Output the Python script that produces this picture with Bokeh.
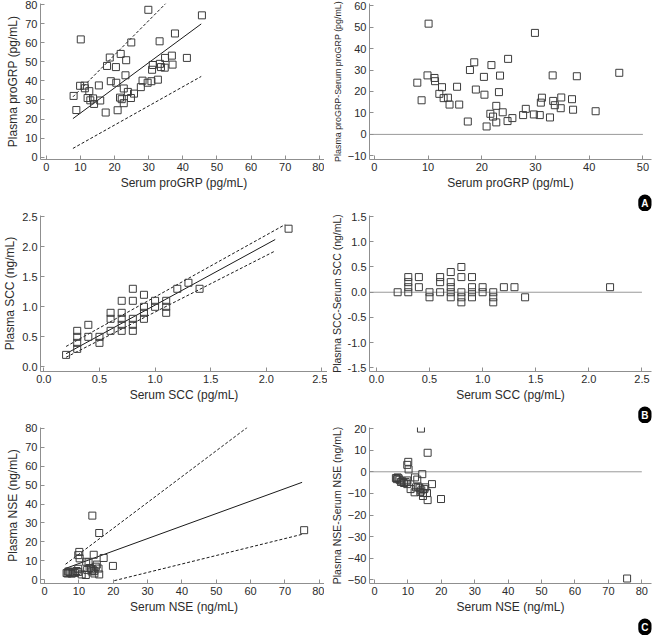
from bokeh.plotting import figure
from bokeh.models import FixedTicker, Range1d, NumeralTickFormatter, Title
from bokeh.layouts import gridplot
from bokeh.embed import file_html
from bokeh.resources import INLINE

FONT = "Liberation Sans"

# ---------------- proGRP ----------------
progrp_serum = [8.0, 8.8, 9.9, 10.1, 11.2, 11.3, 12.1, 12.6, 12.9, 13.7, 14.0, 15.4, 15.8, 17.4,
                17.8, 18.6, 18.9, 20.4, 20.5, 20.9, 21.6, 21.8, 22.1, 22.7, 22.7, 23.2, 23.4, 23.9,
                24.8, 24.9, 25.7, 27.7, 28.2, 29.7, 29.9, 30.8, 31.0, 31.2, 32.7, 33.2, 33.3, 33.6,
                34.7, 34.8, 36.8, 37.0, 37.7, 41.2, 45.6]
progrp_plasma = [32.1, 24.7, 37.4, 61.7, 37.5, 36.1, 31.0, 34.6, 29.8, 30.8, 27.9, 37.6, 29.7, 23.4,
                 47.8, 52.2, 39.8, 47.2, 39.0, 24.6, 31.2, 54.1, 30.4, 36.0, 28.3, 42.9, 50.8, 34.2,
                 31.0, 60.1, 33.3, 36.7, 40.1, 39.0, 77.2, 39.8, 45.8, 48.3, 40.6, 60.7, 48.9, 47.2,
                 46.9, 52.0, 53.2, 48.5, 64.8, 52.0, 74.3]
progrp_diff = [24.1, 15.9, 27.5, 51.6, 26.3, 24.8, 18.9, 22.0, 16.9, 17.1, 13.9, 22.2, 13.9, 6.0,
               30.0, 33.6, 20.9, 26.8, 18.5, 3.7, 9.6, 32.3, 8.3, 13.3, 5.6, 19.7, 27.4, 10.3,
               6.2, 35.2, 7.6, 9.0, 11.9, 9.3, 47.3, 9.0, 14.8, 17.1, 7.9, 27.5, 15.6, 13.6,
               12.2, 17.2, 16.4, 11.5, 27.1, 10.8, 28.7]
progrp_fit_x = [7.8, 45.4]
progrp_fit_y = [20.2, 69.8]
progrp_upper_x = [7.8, 35.0]
progrp_upper_y = [31.6, 80.5]
progrp_lower_x = [7.8, 45.4]
progrp_lower_y = [4.6, 42.3]
progrp_zero_x = [-0.9, 50]
progrp_zero_y = [0, 0]

# ---------------- SCC ----------------
scc_serum = [0.2, 0.3, 0.3, 0.3, 0.3, 0.4, 0.4, 0.5, 0.5, 0.6, 0.6, 0.6,
             0.7, 0.7, 0.7, 0.7, 0.7, 0.8, 0.8, 0.8, 0.8, 0.8, 0.9, 0.9, 0.9, 0.9,
             1.0, 1.0, 1.1, 1.1, 1.1, 1.2, 1.3, 1.4, 2.2]
scc_plasma = [0.2, 0.6, 0.5, 0.4, 0.3, 0.7, 0.5, 0.5, 0.4, 0.9, 0.8, 0.6,
              1.1, 0.9, 0.8, 0.7, 0.6, 1.3, 1.1, 0.8, 0.7, 0.6, 1.2, 1.0, 0.9, 0.8,
              1.1, 1.0, 1.1, 1.0, 0.9, 1.3, 1.4, 1.3, 2.3]
scc_diff = [0.0, 0.3, 0.2, 0.1, 0.0, 0.3, 0.1, 0.0, -0.1, 0.3, 0.2, 0.0,
            0.4, 0.2, 0.1, 0.0, -0.1, 0.5, 0.3, 0.0, -0.1, -0.2, 0.3, 0.1, 0.0, -0.1,
            0.1, 0.0, 0.0, -0.1, -0.2, 0.1, 0.1, -0.1, 0.1]
scc_fit_x = [0.2, 2.08]
scc_fit_y = [0.22, 2.12]
scc_upper_x = [0.2, 2.17]
scc_upper_y = [0.34, 2.37]
scc_lower_x = [0.2, 2.08]
scc_lower_y = [0.16, 1.93]
scc_zero_x = [-0.065, 2.5]
scc_zero_y = [0, 0]

# ---------------- NSE ----------------
nse_serum = [6.4, 6.7, 6.9, 7.2, 7.5, 7.9, 8.3, 8.8, 9.3, 9.8, 9.8, 9.8, 10.1, 10.2, 10.8,
             12.0, 12.1, 12.4, 12.8, 13.1, 13.5, 13.7, 13.9, 14.0, 14.3, 14.5, 14.5, 14.9,
             15.2, 15.7, 15.9, 15.9, 17.2, 19.9, 75.6]
nse_plasma = [3.5, 3.3, 4.3, 4.2, 3.8, 3.2, 3.9, 3.6, 4.6, 4.1, 5.8, 13.0, 14.7, 11.3, 2.8,
              2.5, 9.5, 5.2, 9.2, 6.2, 5.9, 4.4, 33.9, 5.4, 13.2, 4.7, 3.3, 6.9,
              8.0, 5.9, 24.7, 2.8, 11.5, 7.3, 26.2]
nse_diff = [-2.9, -3.4, -2.6, -3.0, -3.7, -4.7, -4.4, -5.2, -4.7, -5.7, -4.0, 3.2, 4.6, 1.1, -8.0,
            -9.5, -2.6, -7.2, -3.6, -6.9, -7.6, -9.3, 20.0, -8.6, -1.1, -9.8, -11.2, -8.0,
            -7.2, -9.8, 8.8, -13.1, -5.7, -12.6, -49.4]
nse_fit_x = [6.0, 75.0]
nse_fit_y = [5.9, 51.5]
nse_upper_x = [6.1, 59.0]
nse_upper_y = [8.2, 80.5]
nse_lower_x = [20.3, 75.0]
nse_lower_y = [-0.5, 24.0]
nse_zero_x = [-1.5, 80]
nse_zero_y = [0, 0]

ticks_0_80 = [0, 10, 20, 30, 40, 50, 60, 70, 80]
ticks_0_50 = [0, 10, 20, 30, 40, 50]
ticks_m10_60 = [-10, 0, 10, 20, 30, 40, 50, 60]
ticks_scc = [0.0, 0.5, 1.0, 1.5, 2.0, 2.5]
ticks_scc_diff = [-1.5, -1.0, -0.5, 0.0, 0.5, 1.0, 1.5]
ticks_m50_20 = [-50, -40, -30, -20, -10, 0, 10, 20]

AXIS_COLOR = "#8f8f8f"
TEXT_COLOR = "#2b2b2b"
MARK_COLOR = "#3c3c3c"
FH = 156


def make_fig(xr, yr, xticks, yticks, xlabel, ylabel, fw, bl, br, bt, fmt=None, ylab_size="12px"):
    p = figure(frame_width=fw, frame_height=FH, output_backend="svg", toolbar_location=None,
               x_range=Range1d(*xr), y_range=Range1d(*yr),
               min_border_left=bl, min_border_right=br, min_border_top=bt, min_border_bottom=30)
    p.outline_line_color = None
    p.grid.visible = False
    p.background_fill_color = "white"
    p.border_fill_color = "white"
    p.xaxis.ticker = FixedTicker(ticks=xticks)
    p.yaxis.ticker = FixedTicker(ticks=yticks)
    if fmt:
        p.xaxis.formatter = NumeralTickFormatter(format=fmt)
        p.yaxis.formatter = NumeralTickFormatter(format=fmt)
    for ax in (p.xaxis, p.yaxis):
        ax.axis_line_color = AXIS_COLOR
        ax.major_tick_line_color = AXIS_COLOR
        ax.major_tick_in = 4
        ax.major_tick_out = 0
        ax.minor_tick_line_color = None
        ax.major_label_text_font = FONT
        ax.major_label_text_font_size = "11px"
        ax.major_label_text_color = TEXT_COLOR
        ax.axis_label_text_font = FONT
        ax.axis_label_text_font_size = "12px"
        ax.axis_label_text_font_style = "normal"
        ax.axis_label_text_color = TEXT_COLOR
        ax.axis_label_standoff = 2
        ax.major_label_standoff = 3
    p.yaxis.axis_label_text_font_size = ylab_size
    p.xaxis.axis_label = xlabel
    p.yaxis.axis_label = ylabel
    return p


def add_points(p, x, y):
    p.scatter(x, y, marker="square", size=7, fill_color=None, line_color=MARK_COLOR, line_width=1)


def add_lines(p, fx, fy, ux, uy, lx, ly):
    p.line(fx, fy, line_color="#1a1a1a", line_width=1)
    p.line(ux, uy, line_color="#1a1a1a", line_width=1, line_dash="3 2")
    p.line(lx, ly, line_color="#1a1a1a", line_width=1, line_dash="3 2")


def add_letter(p, letter):
    # panel letter as a black round badge under the right end of the x axis
    p.add_layout(Title(text=letter, align="right", text_color="white", text_font=FONT,
                       text_font_style="bold", text_font_size="10px",
                       background_fill_color="black", padding=3, border_radius=7,
                       standoff=0), "below")


LW, RW = 287, 282

p1 = make_fig((-1.7, 82.4), (-1.2, 80.5), ticks_0_80, ticks_0_80,
              "Serum proGRP (pg/mL)", "Plasma proGRP (pg/mL)", LW, 30, 0, 3)
add_lines(p1, progrp_fit_x, progrp_fit_y, progrp_upper_x, progrp_upper_y, progrp_lower_x, progrp_lower_y)
add_points(p1, progrp_serum, progrp_plasma)

p2 = make_fig((-0.9, 51.6), (-11.7, 61), ticks_0_50, ticks_m10_60,
              "Serum proGRP (pg/mL)", "Plasma proGRP-Serum proGRP (pg/mL)", RW, 30, 6, 3,
              ylab_size="8.9px")
p2.line(progrp_zero_x, progrp_zero_y, line_color="#9a9a9a", line_width=1)
add_points(p2, progrp_serum, progrp_diff)
add_letter(p2, "A")

p3 = make_fig((-0.03, 2.55), (-0.077, 2.52), ticks_scc, ticks_scc,
              "Serum SCC (pg/mL)", "Plasma SCC (ng/mL)", LW, 30, 0, 4, fmt="0.0")
add_lines(p3, scc_fit_x, scc_fit_y, scc_upper_x, scc_upper_y, scc_lower_x, scc_lower_y)
add_points(p3, scc_serum, scc_plasma)

p4 = make_fig((-0.065, 2.59), (-1.57, 1.52), ticks_scc, ticks_scc_diff,
              "Serum SCC (pg/mL)", "Plasma SCC-Serum SCC (ng/mL)", RW, 30, 6, 4, fmt="0.0",
              ylab_size="10.5px")
p4.line(scc_zero_x, scc_zero_y, line_color="#9a9a9a", line_width=1)
add_points(p4, scc_serum, scc_diff)
add_letter(p4, "B")

p5 = make_fig((-1.2, 82.4), (-2.0, 80.5), ticks_0_80, ticks_0_80,
              "Serum NSE (ng/mL)", "Plasma NSE (ng/mL)", LW, 30, 0, 4)
add_lines(p5, nse_fit_x, nse_fit_y, nse_upper_x, nse_upper_y, nse_lower_x, nse_lower_y)
add_points(p5, nse_serum, nse_plasma)

p6 = make_fig((-1.5, 82.9), (-51.7, 20.5), ticks_0_80, ticks_m50_20,
              "Serum NSE (ng/mL)", "Plasma NSE-Serum NSE (ng/mL)", RW, 30, 6, 4,
              ylab_size="10.5px")
p6.line(nse_zero_x, nse_zero_y, line_color="#9a9a9a", line_width=1)
add_points(p6, nse_serum, nse_diff)
add_letter(p6, "C")

grid = gridplot([[p1, p2], [p3, p4], [p5, p6]], toolbar_location=None)

open("out.html", "w").write(file_html(grid, INLINE))
